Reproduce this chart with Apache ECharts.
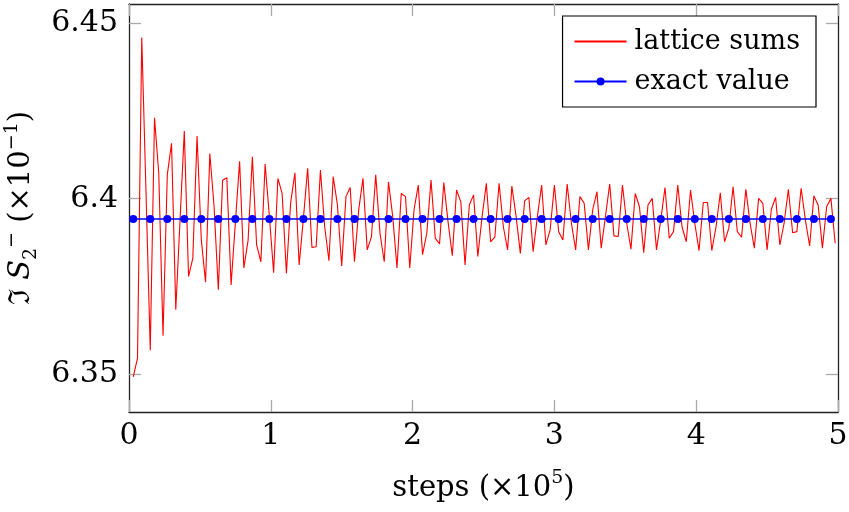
<!DOCTYPE html>
<html><head><meta charset="utf-8">
<script src="https://cdn.jsdelivr.net/npm/echarts@6/dist/echarts.min.js"></script>
<style>html,body{margin:0;padding:0;background:#fff}#c{width:849px;height:512px}</style>
</head><body><div id="c"></div>
<script>
const steps = [
0.03,0.06,0.09,0.12,0.15,0.18,0.21,0.24,0.27,0.30,
0.33,0.36,0.39,0.42,0.45,0.48,0.51,0.54,0.57,0.60,
0.63,0.66,0.69,0.72,0.75,0.78,0.81,0.84,0.87,0.90,
0.93,0.96,0.99,1.02,1.05,1.08,1.11,1.14,1.17,1.20,
1.23,1.26,1.29,1.32,1.35,1.38,1.41,1.44,1.47,1.50,
1.53,1.56,1.59,1.62,1.65,1.68,1.71,1.74,1.77,1.80,
1.83,1.86,1.89,1.92,1.95,1.98,2.01,2.04,2.07,2.10,
2.13,2.16,2.19,2.22,2.25,2.28,2.31,2.34,2.37,2.40,
2.43,2.46,2.49,2.52,2.55,2.58,2.61,2.64,2.67,2.70,
2.73,2.76,2.79,2.82,2.85,2.88,2.91,2.94,2.97,3.00,
3.03,3.06,3.09,3.12,3.15,3.18,3.21,3.24,3.27,3.30,
3.33,3.36,3.39,3.42,3.45,3.48,3.51,3.54,3.57,3.60,
3.63,3.66,3.69,3.72,3.75,3.78,3.81,3.84,3.87,3.90,
3.93,3.96,3.99,4.02,4.05,4.08,4.11,4.14,4.17,4.20,
4.23,4.26,4.29,4.32,4.35,4.38,4.41,4.44,4.47,4.50,
4.53,4.56,4.59,4.62,4.65,4.68,4.71,4.74,4.77,4.80,
4.83,4.86,4.89,4.92,4.95,4.98];
const latticeSums = [
6.3491,6.3545,6.4460,6.4017,6.3567,6.4231,6.4072,6.3609,6.4068,6.4158,
6.3683,6.3939,6.4193,6.3778,6.3830,6.4179,6.3882,6.3762,6.4129,6.3977,
6.3740,6.4053,6.4060,6.3754,6.3931,6.4107,6.3802,6.3882,6.4120,6.3868,
6.3820,6.4099,6.3949,6.3789,6.4058,6.4015,6.3787,6.3988,6.4074,6.3811,
6.3944,6.4087,6.3861,6.3863,6.4082,6.3920,6.3823,6.4063,6.3982,6.3808,
6.4006,6.4032,6.3820,6.3968,6.4058,6.3854,6.3892,6.4068,6.3901,6.3820,
6.4048,6.3949,6.3802,6.4015,6.4006,6.3802,6.3968,6.4039,6.3840,6.3901,
6.4053,6.3887,6.3871,6.4046,6.3934,6.3837,6.4025,6.3991,6.3811,6.3982,
6.4011,6.3835,6.3949,6.4044,6.3877,6.3890,6.4044,6.3920,6.3854,6.4036,
6.3949,6.3844,6.3994,6.4004,6.3849,6.3949,6.4039,6.3868,6.3911,6.4039,
6.3906,6.3882,6.4042,6.3930,6.3854,6.4006,6.3987,6.3854,6.3968,6.4020,
6.3859,6.3949,6.4042,6.3894,6.3892,6.4039,6.3930,6.3856,6.4015,6.3977,
6.3846,6.3982,6.4001,6.3854,6.3939,6.4032,6.3887,6.3906,6.4039,6.3920,
6.3877,6.4025,6.3930,6.3852,6.3989,6.3989,6.3852,6.3920,6.4017,6.3877,
6.3916,6.4034,6.3906,6.3890,6.4027,6.3930,6.3859,6.4001,6.3987,6.3854,
6.3970,6.4004,6.3868,6.3930,6.4027,6.3903,6.3906,6.4030,6.3939,6.3865,
6.4008,6.3982,6.3859,6.3977,6.4001,6.3873];
const exactSteps = [0.03,0.15,0.27,0.39,0.51,0.63,0.75,0.87,0.99,1.11,1.23,1.35,1.47,1.59,1.71,1.83,1.95,2.07,2.19,2.31,2.43,2.55,2.67,2.79,2.91,3.03,3.15,3.27,3.39,3.51,3.63,3.75,3.87,3.99,4.11,4.23,4.35,4.47,4.59,4.71,4.83,4.95];
const exactValues = [6.3942,6.3942,6.3942,6.3942,6.3942,6.3942,6.3942,6.3942,6.3942,6.3942,6.3942,6.3942,6.3942,6.3942,6.3942,6.3942,6.3942,6.3942,6.3942,6.3942,6.3942,6.3942,6.3942,6.3942,6.3942,6.3942,6.3942,6.3942,6.3942,6.3942,6.3942,6.3942,6.3942,6.3942,6.3942,6.3942,6.3942,6.3942,6.3942,6.3942,6.3942,6.3942];
const yTicks = [6.35, 6.4, 6.45];
const yTickLabels = ['6.35', '6.4', '6.45'];
const seriesNames = ['lattice sums', 'exact value'];

const FONT = 'DejaVu Serif';
const FS = 30;
const tickStyle = {show: true, inside: true, length: 12, lineStyle: {color: '#aaaaaa', width: 1.3}};
const lineStyleAxis = {show: true, onZero: false, lineStyle: {color: '#222', width: 1.3}};
const richY = {
  n: {fontFamily: FONT, fontSize: 29, color: '#000', lineHeight: 38},
  it: {fontFamily: FONT, fontSize: 29, fontStyle: 'italic', color: '#000', lineHeight: 38},
  sub: {fontFamily: FONT, fontSize: 19, color: '#000', verticalAlign: 'bottom', lineHeight: 38},
  sup: {fontFamily: FONT, fontSize: 19, color: '#000', verticalAlign: 'top', lineHeight: 38}
};
const chart = echarts.init(document.getElementById('c'), null, {renderer: 'canvas'});
chart.setOption({
  animation: false,
  backgroundColor: '#fff',
  grid: {left: 129, top: 4, width: 709, height: 408, containLabel: false, outerBoundsMode: 'none'},
  legend: {
    right: 33, top: 16, orient: 'vertical',
    padding: [12, 16, 12, 11], itemGap: 13, itemWidth: 52, itemHeight: 10,
    backgroundColor: '#fff', borderColor: '#000', borderWidth: 1.2, borderRadius: 0,
    textStyle: {fontFamily: FONT, fontSize: 27, color: '#000', padding: [0, 0, 0, 3]},
    data: [{name: seriesNames[0], itemStyle: {opacity: 0}}, {name: seriesNames[1]}]
  },
  xAxis: [{
    type: 'value', min: 0, max: 5, interval: 1, position: 'bottom',
    name: 'steps (×10{sup|5})', nameLocation: 'middle', nameGap: 57,
    nameTextStyle: {fontFamily: FONT, fontSize: 29, color: '#000', rich: richY},
    axisLine: lineStyleAxis, axisTick: tickStyle,
    axisLabel: {fontFamily: FONT, fontSize: FS, color: '#000', margin: 9},
    splitLine: {show: false}
  }, {
    type: 'value', min: 0, max: 5, interval: 1, position: 'top',
    axisLine: lineStyleAxis, axisTick: tickStyle, axisLabel: {show: false}, splitLine: {show: false}
  }],
  yAxis: [{
    type: 'value', min: 6.3391, max: 6.4556, position: 'left',
    name: '{n|ℑ }{it|S}{sub|2}{sup|−}{n| (×10}{sup|−1}{n|)}', nameLocation: 'middle', nameGap: 82, nameRotate: 90,
    nameTextStyle: {fontFamily: FONT, fontSize: 29, color: '#000', rich: richY},
    axisLine: lineStyleAxis,
    axisTick: Object.assign({}, tickStyle, {customValues: yTicks}),
    axisLabel: {fontFamily: FONT, fontSize: FS, color: '#000', margin: 11, customValues: yTicks,
      formatter: v => { const i = yTicks.findIndex(t => Math.abs(t - v) < 1e-6); return i >= 0 ? yTickLabels[i] : ''; }},
    splitLine: {show: false}
  }, {
    type: 'value', min: 6.3391, max: 6.4556, position: 'right',
    axisLine: lineStyleAxis,
    axisTick: Object.assign({}, tickStyle, {customValues: yTicks}),
    axisLabel: {show: false}, splitLine: {show: false}
  }],
  series: [{
    name: seriesNames[0], type: 'line', xAxisIndex: 0, yAxisIndex: 0,
    data: steps.map((s, i) => [s, latticeSums[i]]),
    symbol: 'none', lineStyle: {color: '#ff0000', width: 1.1}, itemStyle: {color: '#ff0000'}
  }, {
    name: seriesNames[1], type: 'line', xAxisIndex: 0, yAxisIndex: 0,
    data: exactSteps.map((s, i) => [s, exactValues[i]]),
    symbol: 'circle', symbolSize: 8, showSymbol: true,
    lineStyle: {color: '#0000ff', width: 1.6}, itemStyle: {color: '#0000ff'}
  }]
});
</script></body></html>
